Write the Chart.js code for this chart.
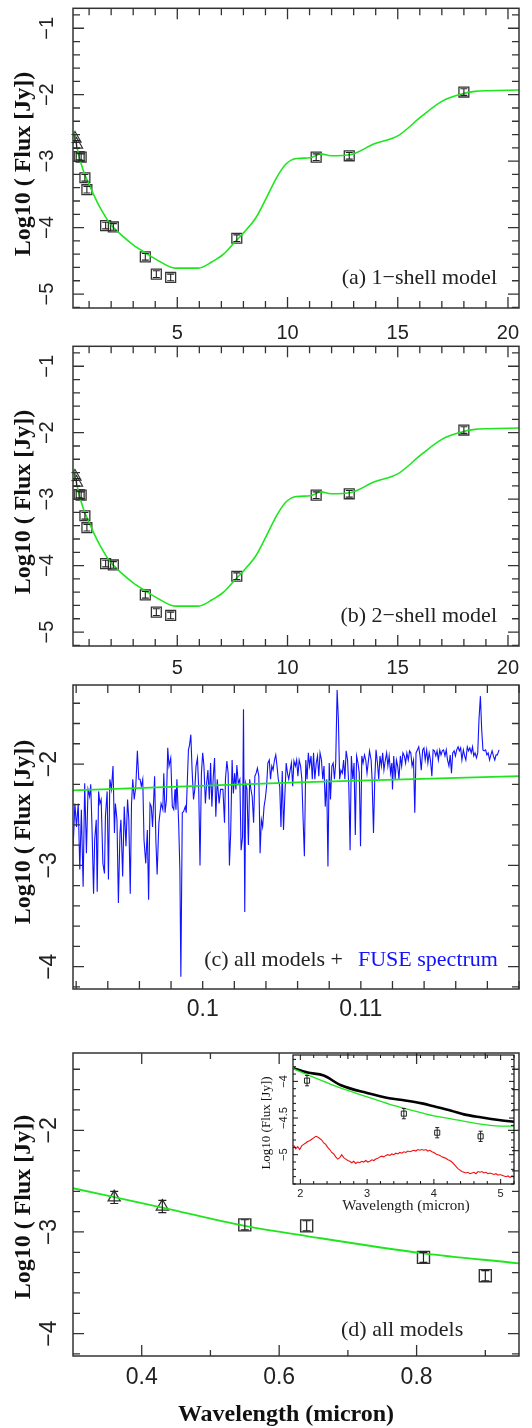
<!DOCTYPE html>
<html>
<head>
<meta charset="utf-8">
<script src="https://cdn.jsdelivr.net/npm/chart.js@4.4.1/dist/chart.umd.min.js"></script>
<style>
html, body { margin: 0; padding: 0; background: #fff; overflow: hidden; }
#wrap { position: relative; width: 532px; height: 1428px; }
canvas { position: absolute; left: 0; }
</style>
</head>
<body>
<div id="wrap">
  <canvas id="pa" width="532" height="345" style="top:0px"></canvas>
  <canvas id="pb" width="532" height="345" style="top:338px"></canvas>
  <canvas id="pc" width="532" height="350" style="top:676px"></canvas>
  <canvas id="pd" width="532" height="398" style="top:1030px"></canvas>
  <canvas id="pi" width="280" height="190" style="top:1045px;left:250px"></canvas>
</div>
<script>
// photometry (micron, log10 Jy)
const uvWave = [0.36, 0.43];
const uvFlux = [-2.66, -2.75];
const uvErr = [0.06, 0.06];
const photWave = [0.55, 0.64, 0.81, 0.90, 1.75, 2.1, 3.55, 4.05, 4.7, 7.7, 11.3, 12.8, 18.0];
const photFlux = [-2.93, -2.94, -3.25, -3.43, -3.97, -3.99, -4.44, -4.70, -4.75, -4.16, -2.94, -2.92, -1.96];
const photErr = [0.05, 0.05, 0.05, 0.05, 0.05, 0.05, 0.05, 0.05, 0.05, 0.05, 0.05, 0.05, 0.05];

// model SED
const modelWave = [0.30, 0.43, 0.55, 0.64, 0.81, 0.95, 1.2, 1.5, 1.95, 2.5, 3.0, 3.6, 4.2, 4.9, 5.95, 6.6, 7.1, 7.55, 8.0, 8.55, 9.06, 9.52, 9.94, 10.42, 11.03, 11.5, 11.97, 12.88, 13.94, 15.0, 16.1, 17.0, 17.9, 18.5, 19.1, 20.5];
const modelFlux = [-2.57, -2.76, -2.94, -3.04, -3.21, -3.31, -3.50, -3.70, -3.94, -4.12, -4.26, -4.39, -4.51, -4.61, -4.61, -4.51, -4.40, -4.24, -4.08, -3.86, -3.54, -3.24, -3.04, -2.96, -2.95, -2.89, -2.92, -2.90, -2.74, -2.62, -2.32, -2.10, -1.99, -1.95, -1.94, -1.93];

// FUV model + FUSE spectrum
const fuvModelWave = [0.0918, 0.106, 0.1200];
const fuvModelFlux = [-2.26, -2.18, -2.12];
const specWave = [0.09175,0.09181,0.09192,0.09202,0.09213,0.09223,0.09233,0.09244,0.09254,0.09265,
0.09275,0.09285,0.09292,0.09300,0.09310,0.09317,0.09327,0.09333,0.09342,0.09350,
0.09358,0.09369,0.09379,0.09385,0.09396,0.09404,0.09413,0.09423,0.09433,0.09442,
0.09448,0.09458,0.09467,0.09477,0.09483,0.09494,0.09504,0.09515,0.09525,0.09533,
0.09542,0.09550,0.09558,0.09567,0.09577,0.09587,0.09596,0.09604,0.09612,0.09621,
0.09629,0.09640,0.09650,0.09658,0.09667,0.09675,0.09683,0.09696,0.09704,0.09712,
0.09723,0.09737,0.09748,0.09754,0.09762,0.09771,0.09779,0.09787,0.09798,0.09808,
0.09817,0.09825,0.09831,0.09837,0.09848,0.09856,0.09862,0.09871,0.09879,0.09890,
0.09896,0.09904,0.09910,0.09917,0.09925,0.09933,0.09942,0.09950,0.09958,0.09967,
0.09975,0.09983,0.09992,0.10000,0.10008,0.10017,0.10025,0.10033,0.10042,0.10050,
0.10058,0.10067,0.10075,0.10083,0.10092,0.10104,0.10113,
0.10128,0.10138,0.10144,0.10153,0.10161,0.10169,0.10177,0.10186,0.10194,0.10202,
0.10210,0.10216,0.10225,0.10235,0.10243,0.10252,0.10258,0.10266,0.10272,0.10280,
0.10289,0.10297,0.10305,0.10313,0.10322,0.10330,0.10338,0.10346,0.10355,0.10363,
0.10371,0.10379,0.10388,0.10396,0.10404,0.10412,0.10421,0.10429,0.10437,0.10445,
0.10454,0.10462,0.10470,0.10478,0.10487,0.10495,0.10503,0.10511,0.10520,0.10528,
0.10536,0.10544,0.10553,0.10561,0.10569,0.10577,0.10586,0.10594,0.10602,0.10610,
0.10619,0.10627,0.10635,0.10643,0.10652,0.10660,0.10668,0.10676,0.10685,0.10693,
0.10701,0.10709,0.10718,0.10726,0.10734,0.10742,0.10751,0.10759,0.10767,0.10775,
0.10784,0.10792,0.10800,0.10808,0.10817,0.10825,0.10833,0.10841,0.10850,0.10858,
0.10866,0.10874,0.10883,0.10891,0.10899,0.10907,0.10916,0.10924,0.10932,0.10940,
0.10949,0.10957,0.10965,0.10973,0.10982,0.10990,0.10998,0.11006,0.11014,0.11023,
0.11031,0.11039,
0.11055,0.11065,0.11071,0.11080,0.11088,0.11096,0.11105,0.11113,0.11121,0.11130,
0.11138,0.11146,0.11154,0.11163,0.11171,0.11179,0.11188,0.11196,0.11200,0.11208,
0.11217,0.11225,0.11233,0.11241,0.11250,0.11258,0.11266,0.11275,0.11283,0.11291,
0.11300,0.11308,0.11316,0.11324,0.11333,0.11341,0.11349,0.11358,0.11366,0.11374,
0.11382,0.11391,0.11399,0.11407,0.11416,0.11424,0.11432,0.11440,0.11449,0.11457,
0.11465,0.11474,0.11482,0.11490,0.11499,0.11507,0.11515,0.11523,0.11532,0.11540,
0.11548,0.11557,0.11565,0.11573,0.11581,0.11590,0.11598,0.11606,0.11615,0.11623,
0.11631,0.11639,0.11648,0.11656,0.11664,0.11673,0.11681,0.11689,0.11698,0.11706,
0.11714,0.11722,0.11731,0.11739,0.11747,0.11756,0.11764,0.11772,0.11780,0.11789,
0.11797,0.11805,0.11814,0.11822,0.11830,0.11838,0.11847,0.11855,0.11863,0.11874];
const specFlux = [-2.52,-2.81,-2.39,-2.62,-2.39,-3.04,-2.45,-3.21,-2.19,-2.88,
-2.25,-2.32,-2.20,-2.62,-3.28,-2.75,-2.55,-3.26,-2.27,-2.39,
-2.35,-2.98,-3.08,-2.52,-2.27,-3.14,-2.15,-2.25,-2.02,-2.68,
-2.39,-2.55,-3.37,-2.68,-2.55,-3.11,-2.42,-2.81,-2.35,-2.55,
-3.28,-2.39,-2.15,-2.35,-2.22,-1.87,-2.15,-2.15,-2.22,-2.15,
-2.75,-2.98,-2.65,-3.34,-2.39,-2.42,-2.62,-2.12,-2.75,-3.09,
-2.58,-2.39,-2.45,-2.09,-2.48,-2.35,-1.84,-2.02,-1.94,-2.42,
-2.45,-2.25,-2.45,-2.15,-2.58,-3.06,-4.10,-2.48,-2.47,-2.42,
-2.48,-2.12,-1.86,-1.81,-1.71,-2.06,-2.35,-2.25,-2.02,-1.94,
-2.25,-3.00,-2.09,-1.89,-2.02,-2.39,-2.19,-2.06,-2.35,-1.99,
-2.42,-2.12,-1.94,-2.52,-2.15,-2.39,-2.25,
-2.25,-2.58,-2.15,-1.97,-2.09,-3.00,-2.68,-1.96,-2.29,-2.09,
-2.25,-2.01,-2.19,-2.15,-2.85,-2.72,-1.46,-3.46,-2.19,-2.25,
-2.80,-2.15,-2.25,-2.32,-2.58,-2.12,-2.09,-2.04,-2.12,-2.88,
-2.55,-2.62,-2.42,-2.34,-2.22,-1.99,-1.96,-2.15,-2.02,-2.06,
-1.96,-1.91,-2.02,-2.15,-2.22,-2.62,-2.07,-2.65,-2.29,-1.99,
-2.09,-2.15,-2.06,-1.99,-2.22,-1.97,-2.02,-1.96,-2.12,-1.96,
-2.02,-2.15,-2.55,-2.91,-1.96,-2.15,-1.89,-2.02,-1.92,-2.15,
-1.89,-2.15,-1.99,-1.92,-2.12,-1.89,-1.96,-2.15,-2.02,-2.42,
-2.15,-3.01,-1.99,-2.35,-2.02,-1.99,-2.15,-1.99,-1.27,-1.56,
-2.15,-2.06,-2.09,-1.96,-2.15,-1.87,-1.96,-2.22,-2.85,-1.92,
-2.15,-1.99,-2.70,-1.92,-1.99,-2.09,-2.81,-1.92,-1.99,-1.91,
-1.96,-2.09,
-1.87,-1.96,-2.15,-2.68,-2.15,-1.86,-1.99,-2.15,-1.92,-2.02,
-1.89,-2.06,-1.97,-1.89,-2.02,-1.92,-2.09,-1.99,-2.25,-1.92,
-2.15,-1.96,-2.02,-2.15,-1.92,-2.02,-1.89,-1.92,-1.99,-1.89,
-1.96,-1.87,-1.89,-2.02,-1.96,-2.48,-1.89,-1.86,-1.83,-1.92,
-2.06,-1.86,-1.84,-1.96,-1.86,-1.99,-1.89,-1.96,-2.12,-1.86,
-1.87,-1.92,-1.87,-1.96,-1.86,-1.91,-1.87,-1.86,-1.92,-1.86,
-1.96,-2.02,-1.91,-2.09,-1.89,-1.87,-1.92,-1.86,-1.83,-1.87,
-1.84,-1.96,-1.86,-1.92,-1.96,-1.83,-1.87,-1.84,-1.89,-1.83,
-1.92,-1.89,-1.94,-1.89,-1.56,-1.33,-1.66,-1.86,-1.87,-1.86,
-1.91,-1.89,-1.96,-1.91,-1.87,-1.92,-1.96,-1.91,-1.91,-1.86];

// inset: near-IR models and spectrum
const insetBlackWave = [1.9, 2.11, 2.35, 2.6, 3.0, 3.33, 3.57, 3.82, 4.0, 4.26, 4.45, 4.7, 5.0, 5.2];
const insetBlackFlux = [-3.82, -3.88, -3.92, -4.05, -4.16, -4.23, -4.26, -4.30, -4.34, -4.40, -4.45, -4.49, -4.53, -4.55];
const insetGreenWave = [1.9, 2.11, 2.35, 2.6, 3.0, 3.33, 3.57, 3.82, 4.0, 4.26, 4.55, 4.84, 5.0, 5.2];
const insetGreenFlux = [-3.83, -3.91, -4.0, -4.09, -4.21, -4.31, -4.37, -4.43, -4.47, -4.51, -4.56, -4.60, -4.61, -4.61];
const insetRedWave = [1.90,1.93,1.96,1.99,2.02,2.05,2.08,2.11,2.14,2.17,2.20,2.23,2.26,2.29,2.32,2.35,2.38,2.41,2.44,2.47,
2.50,2.53,2.56,2.59,2.62,2.65,2.68,2.71,2.74,2.77,2.80,2.83,2.86,2.89,2.92,2.95,2.98,3.01,3.04,3.07,
3.10,3.13,3.16,3.19,3.22,3.25,3.28,3.31,3.34,3.37,3.40,3.43,3.46,3.49,3.52,3.55,3.58,3.61,3.64,3.67,
3.70,3.73,3.76,3.79,3.82,3.85,3.88,3.91,3.94,3.97,4.00,4.03,4.06,4.09,4.12,4.15,4.18,4.21,4.24,4.27,
4.30,4.33,4.36,4.39,4.42,4.45,4.48,4.51,4.54,4.57,4.60,4.63,4.66,4.69,4.72,4.75,4.78,4.81,4.84,4.87,
4.90,4.93,4.96,4.99,5.02,5.05,5.08,5.11,5.14,5.17,5.20];
const insetRedFlux = [-4.87,-4.92,-4.89,-4.93,-4.88,-4.86,-4.84,-4.82,-4.81,-4.79,-4.77,-4.75,-4.76,-4.78,-4.80,-4.84,-4.86,-4.90,-4.93,-4.97,
-4.99,-5.03,-5.06,-5.04,-5.00,-5.04,-5.06,-5.08,-5.09,-5.11,-5.09,-5.12,-5.10,-5.11,-5.09,-5.10,-5.08,-5.10,-5.09,-5.07,
-5.08,-5.06,-5.05,-5.03,-5.02,-5.03,-5.01,-5.00,-5.01,-4.99,-5.00,-4.98,-4.99,-4.97,-4.98,-4.96,-4.97,-4.95,-4.96,-4.95,
-4.94,-4.95,-4.93,-4.94,-4.93,-4.94,-4.93,-4.95,-4.94,-4.96,-4.97,-4.99,-5.00,-5.01,-5.03,-5.04,-5.05,-5.07,-5.08,-5.10,
-5.13,-5.16,-5.19,-5.21,-5.23,-5.24,-5.25,-5.24,-5.26,-5.25,-5.24,-5.26,-5.23,-5.24,-5.23,-5.25,-5.24,-5.26,-5.25,-5.26,
-5.27,-5.26,-5.28,-5.27,-5.28,-5.29,-5.30,-5.29,-5.31,-5.29,-5.30];

// tick labels
const xLabelsAB = [5, 10, 15, 20];
const yLabelsAB = [-5, -4, -3, -2, -1];
const xLabelsC = [0.1, 0.11];
const yLabelsC = [-4, -3, -2];
const xLabelsD = [0.4, 0.6, 0.8];
const yLabelsD = [-4, -3, -2];
const xLabelsIn = [2, 3, 4, 5];
const yLabelsIn = [-5, -4.5, -4];

const GREEN = '#1ee61e';
const BLUE = '#1212ff';
const SANS = '"Liberation Sans", Arial, sans-serif';
const SERIF = '"Liberation Serif", "Times New Roman", serif';
const YTITLE = 'Log10 ( Flux [Jy])';

function steps(a, b, d) {
  const out = [];
  for (let i = 0; a + i * d <= b + 1e-9; i++) out.push(+(a + i * d).toFixed(5));
  return out;
}
function isIn(list, v) { return list.some(m => Math.abs(m - v) < 1e-7); }
function fmt(v) { return String(+v.toFixed(4)).replace('-', '\u2212'); }
function pts(xs, ys) { return xs.map((x, i) => ({x: x, y: ys[i]})); }

function axisX(o) {
  return {
    type: 'linear', min: o.min, max: o.max,
    afterFit: s => { s.height = o.height; s.paddingLeft = 0; s.paddingRight = 0; },
    afterBuildTicks: s => { s.ticks = o.ticks.map(v => ({value: v})); },
    grid: {display: false, drawTicks: false},
    border: {display: false},
    ticks: {
      autoSkip: false, maxRotation: 0, minRotation: 0, padding: o.pad, color: '#222',
      font: {family: SANS, size: o.size},
      callback: v => isIn(o.labels, v) ? fmt(v) : ''
    }
  };
}
function axisY(o) {
  return {
    type: 'linear', min: o.min, max: o.max,
    afterFit: s => { s.width = o.width; s.paddingTop = 0; s.paddingBottom = 0; },
    afterBuildTicks: s => { s.ticks = o.ticks.map(v => ({value: v})); },
    grid: {display: false, drawTicks: false},
    border: {display: false},
    ticks: {
      autoSkip: false, minRotation: 90, maxRotation: 90, crossAlign: 'center',
      padding: o.pad, color: '#222',
      font: {family: SANS, size: o.size},
      callback: v => isIn(o.labels, v) ? fmt(v) : ''
    }
  };
}

// box around the plot with inward ticks on all four sides
function frame(o) {
  return {
    id: 'frame',
    afterDraw(chart) {
      const ctx = chart.ctx, a = chart.chartArea;
      const xs = chart.scales.x, ys = chart.scales.y;
      ctx.save();
      ctx.strokeStyle = o.color;
      ctx.lineWidth = o.lw;
      ctx.strokeRect(a.left, a.top, a.right - a.left, a.bottom - a.top);
      ctx.lineWidth = o.tw;
      ctx.beginPath();
      xs.ticks.forEach(t => {
        const px = xs.getPixelForValue(t.value);
        const L = t.label ? o.xMaj : o.xMin;
        ctx.moveTo(px, a.bottom); ctx.lineTo(px, a.bottom - L);
        ctx.moveTo(px, a.top); ctx.lineTo(px, a.top + L);
      });
      ys.ticks.forEach(t => {
        const py = ys.getPixelForValue(t.value);
        const L = t.label ? o.yMaj : o.yMin;
        ctx.moveTo(a.left, py); ctx.lineTo(a.left + L, py);
        ctx.moveTo(a.right, py); ctx.lineTo(a.right - L, py);
      });
      ctx.stroke();
      ctx.restore();
    }
  };
}

function errorBars(cap, lw) {
  return {
    id: 'errbars',
    afterDatasetsDraw(chart) {
      const ctx = chart.ctx, ys = chart.scales.y, a = chart.chartArea;
      ctx.save();
      ctx.strokeStyle = '#222';
      ctx.lineWidth = lw;
      chart.data.datasets.forEach((ds, i) => {
        if (!ds.errs) return;
        chart.getDatasetMeta(i).data.forEach((p, j) => {
          if (p.x < a.left || p.x > a.right) return;
          const v = ds.data[j].y, e = ds.errs[j];
          const y1 = ys.getPixelForValue(v - e), y2 = ys.getPixelForValue(v + e);
          ctx.beginPath();
          ctx.moveTo(p.x, y1); ctx.lineTo(p.x, y2);
          ctx.moveTo(p.x - cap, y1); ctx.lineTo(p.x + cap, y1);
          ctx.moveTo(p.x - cap, y2); ctx.lineTo(p.x + cap, y2);
          ctx.stroke();
        });
      });
      ctx.restore();
    }
  };
}

function notes(items) {
  return {
    id: 'notes',
    afterDraw(chart) {
      const ctx = chart.ctx;
      items.forEach(t => {
        ctx.save();
        ctx.translate(t.x, t.y);
        if (t.rot) ctx.rotate(t.rot);
        ctx.font = t.font;
        ctx.fillStyle = t.color || '#111';
        ctx.textAlign = t.align || 'center';
        ctx.textBaseline = 'middle';
        ctx.fillText(t.text, 0, 0);
        ctx.restore();
      });
    }
  };
}

const base = {
  responsive: false, animation: false, devicePixelRatio: 1,
  plugins: {legend: {display: false}, tooltip: {enabled: false}}
};

function sedPanel(id, label, xpad) {
  return new Chart(document.getElementById(id), {
    type: 'scatter',
    data: {
      datasets: [
        {data: pts(modelWave, modelFlux), showLine: true, borderColor: GREEN, borderWidth: 1.6,
         pointRadius: 0, cubicInterpolationMode: 'monotone'},
        {data: pts(photWave, photFlux), errs: photErr, pointStyle: 'rect', pointRadius: 7,
         borderColor: '#333', borderWidth: 1.3, backgroundColor: 'rgba(0,0,0,0)'},
        {data: pts(uvWave, uvFlux), errs: uvErr, pointStyle: 'triangle', pointRadius: 7,
         borderColor: '#333', borderWidth: 1.2, backgroundColor: 'rgba(0,0,0,0)'}
      ]
    },
    options: Object.assign({}, base, {
      layout: {padding: {top: 7, right: 13, left: 0, bottom: 0}},
      scales: {
        x: axisX({min: 0.27, max: 20.5, height: 37, pad: xpad, size: 20,
                  ticks: steps(1, 20, 1), labels: xLabelsAB}),
        y: axisY({min: -5.21, max: -0.70, width: 73, pad: 14, size: 20,
                  ticks: steps(-5.2, -0.8, 0.2), labels: yLabelsAB})
      }
    }),
    plugins: [
      frame({color: '#333', lw: 1.5, tw: 1.3, xMaj: 11, xMin: 7, yMaj: 11, yMin: 7}),
      errorBars(3.5, 1.1),
      notes([
        {text: YTITLE, x: 24, y: 164, rot: -Math.PI / 2, font: 'bold 24px ' + SERIF},
        {text: label, x: 497, y: 278, align: 'right', font: '22px ' + SERIF, color: '#222'}
      ])
    ]
  });
}

sedPanel('pa', '(a) 1\u2212shell model', 13);
sedPanel('pb', '(b) 2\u2212shell model', 10);

new Chart(document.getElementById('pc'), {
  type: 'scatter',
  data: {
    datasets: [
      {data: pts(fuvModelWave, fuvModelFlux), showLine: true, borderColor: GREEN, borderWidth: 1.8, pointRadius: 0},
      {data: pts(specWave, specFlux), showLine: true, borderColor: BLUE, borderWidth: 1.1, pointRadius: 0, tension: 0}
    ]
  },
  options: Object.assign({}, base, {
    layout: {padding: {top: 9, right: 13, left: 0, bottom: 0}},
    scales: {
      x: axisX({min: 0.0918, max: 0.1200, height: 37, pad: 7, size: 23,
                ticks: steps(0.092, 0.120, 0.002), labels: xLabelsC}),
      y: axisY({min: -4.22, max: -1.22, width: 73, pad: 10, size: 23,
                ticks: steps(-4.2, -1.4, 0.2), labels: yLabelsC})
    }
  }),
  plugins: [
    frame({color: '#333', lw: 1.5, tw: 1.3, xMaj: 8, xMin: 8, yMaj: 11, yMin: 7}),
    notes([
      {text: YTITLE, x: 24, y: 156, rot: -Math.PI / 2, font: 'bold 24px ' + SERIF},
      {text: '(c) all models +', x: 343, y: 284, align: 'right', font: '22px ' + SERIF, color: '#222'},
      {text: 'FUSE spectrum', x: 358, y: 284, align: 'left', font: '22px ' + SERIF, color: BLUE}
    ])
  ]
});

new Chart(document.getElementById('pd'), {
  type: 'scatter',
  data: {
    datasets: [
      {data: pts(modelWave, modelFlux), showLine: true, borderColor: GREEN, borderWidth: 1.8,
       pointRadius: 0, cubicInterpolationMode: 'monotone'},
      {data: pts(photWave, photFlux), errs: photErr, pointStyle: 'rect', pointRadius: 8.5,
       borderColor: '#333', borderWidth: 1.4, backgroundColor: 'rgba(0,0,0,0)'},
      {data: pts(uvWave, uvFlux), errs: uvErr, pointStyle: 'triangle', pointRadius: 7,
       borderColor: '#333', borderWidth: 1.3, backgroundColor: 'rgba(0,0,0,0)'}
    ]
  },
  options: Object.assign({}, base, {
    layout: {padding: {top: 23, right: 13, left: 0, bottom: 0}},
    scales: {
      x: axisX({min: 0.30, max: 0.949, height: 72, pad: 8, size: 23,
                ticks: steps(0.4, 0.9, 0.1), labels: xLabelsD}),
      y: axisY({min: -4.22, max: -1.24, width: 73, pad: 10, size: 23,
                ticks: steps(-4.2, -1.4, 0.2), labels: yLabelsD})
    }
  }),
  plugins: [
    frame({color: '#333', lw: 1.5, tw: 1.3, xMaj: 11, xMin: 6, yMaj: 11, yMin: 7}),
    errorBars(4, 1.2),
    notes([
      {text: YTITLE, x: 24, y: 177, rot: -Math.PI / 2, font: 'bold 24px ' + SERIF},
      {text: '(d) all models', x: 341, y: 300, align: 'left', font: '22px ' + SERIF, color: '#222'},
      {text: 'Wavelength (micron)', x: 286, y: 385, font: 'bold 24px ' + SERIF}
    ])
  ]
});

new Chart(document.getElementById('pi'), {
  type: 'scatter',
  data: {
    datasets: [
      {data: pts(insetGreenWave, insetGreenFlux), showLine: true, borderColor: GREEN, borderWidth: 1.3,
       pointRadius: 0, cubicInterpolationMode: 'monotone'},
      {data: pts(insetBlackWave, insetBlackFlux), showLine: true, borderColor: '#000', borderWidth: 2.6,
       pointRadius: 0, cubicInterpolationMode: 'monotone'},
      {data: pts(insetRedWave, insetRedFlux), showLine: true, borderColor: '#ee1111', borderWidth: 1.1,
       pointRadius: 0, tension: 0},
      {data: pts(photWave, photFlux), errs: [0.07, 0.07, 0.07, 0.07, 0.07, 0.07, 0.07, 0.07, 0.07, 0.07, 0.07, 0.07, 0.07],
       pointStyle: 'rect', pointRadius: 3.6, borderColor: '#222', borderWidth: 1, backgroundColor: 'rgba(0,0,0,0)'}
    ]
  },
  options: Object.assign({}, base, {
    layout: {padding: {top: 10, right: 16, left: 0, bottom: 0}},
    scales: {
      x: axisX({min: 1.89, max: 5.2, height: 51, pad: 3, size: 11,
                ticks: steps(2.0, 5.2, 0.2), labels: xLabelsIn}),
      y: axisY({min: -5.40, max: -3.64, width: 43, pad: -2, size: 11,
                ticks: steps(-5.4, -3.7, 0.1), labels: yLabelsIn})
    }
  }),
  plugins: [
    frame({color: '#111', lw: 1.2, tw: 1, xMaj: 5, xMin: 3, yMaj: 5, yMin: 3}),
    errorBars(2, 1),
    notes([
      {text: 'Log10 (Flux [Jy])', x: 17, y: 78, rot: -Math.PI / 2, font: '13px ' + SERIF},
      {text: 'Wavelength (micron)', x: 156, y: 161, font: '15px ' + SERIF, color: '#222'}
    ])
  ]
});
</script>
</body>
</html>
